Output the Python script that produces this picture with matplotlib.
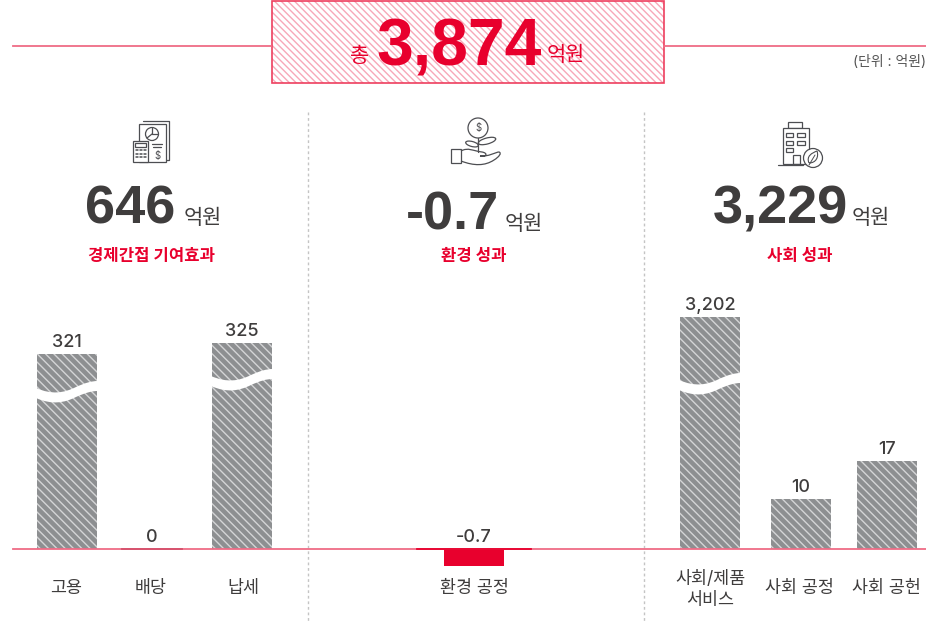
import numpy as np
import matplotlib
matplotlib.use('Agg')
import matplotlib.pyplot as plt
from matplotlib.patches import Rectangle, Circle, PathPatch, Ellipse
from matplotlib.path import Path

plt.rcParams['font.family'] = ['Inter', 'Noto Sans CJK KR', 'DejaVu Sans']
plt.rcParams['hatch.linewidth'] = 1.0

# data
categories = ['고용', '배당', '납세', '환경 공정', '사회/제품\n서비스', '사회 공정', '사회 공헌']
values = [321, 0, 325, -0.7, 3202, 10, 17]
value_labels = ['321', '0', '325', '-0.7', '3,202', '10', '17']
total_value = '3,874'
group_totals = ['646', '-0.7', '3,229']
group_names = ['경제간접 기여효과', '환경 성과', '사회 성과']

RED = '#e8002d'
LINE = '#ef6c86'
DARK = '#3f3d3d'
GRAY = '#8d8f91'
ICON = '#4d4e52'

bar_x = [67, 152, 242, 474, 710, 801, 887]
label_x = [66, 151, 243, 474, 710, 799, 886]

W, H = 926, 621
BASE = 549
fig = plt.figure(figsize=(W / 100, H / 100), dpi=100)

# background layer in pixel coords, y pointing down
bg = fig.add_axes([0, 0, 1, 1])
bg.set_xlim(0, W)
bg.set_ylim(H, 0)
bg.axis('off')

# the source chart uses a broken axis, so the scale is piecewise
scale_val = [-10, -0.7, 0, 10, 17, 321, 325, 3202, 10000]
scale_px = [-40, -17, 0, 50, 88, 195, 206, 232, 300]
def forward(v):
    return np.interp(v, scale_val, scale_px)
def inverse(p):
    return np.interp(p, scale_px, scale_val)

ax_top = 290
ax_bot = 575
ax = fig.add_axes([0, (H - ax_bot) / H, 1, (ax_bot - ax_top) / H], zorder=2)
ax.patch.set_alpha(0)
ax.set_yscale('function', functions=(forward, inverse))
ax.set_ylim(inverse(BASE - ax_bot), inverse(BASE - ax_top))
ax.set_xlim(0, W)
ax.axis('off')

# top layer for the axis breaks
over = fig.add_axes([0, 0, 1, 1], zorder=3)
over.set_xlim(0, W)
over.set_ylim(H, 0)
over.axis('off')
over.patch.set_alpha(0)

# header box
bg.plot([13, 271], [46, 46], color=LINE, lw=1.3)
bg.plot([664, 926], [46, 46], color=LINE, lw=1.3)
bg.add_patch(Rectangle((271.5, 0.5), 392.5, 82, facecolor='white', edgecolor='#f7a8b8',
                       hatch='\\' * 5, lw=0))
bg.add_patch(Rectangle((271.5, 0.5), 392.5, 82, fill=False, edgecolor='#ee3f5f', lw=1.2))
bg.text(360, 62, '총', color=RED, fontsize=15, ha='center', va='baseline')
bg.text(459, 66, total_value, color=RED, fontsize=47.5, fontweight='bold', family='Liberation Sans',
        ha='center', va='baseline')
bg.text(566, 61, '억원', color=RED, fontsize=15, ha='center', va='baseline')
bg.text(926, 66, '(단위 : 억원)', color='#555555', fontsize=10, ha='right', va='baseline')

# dotted separators
for sx in [308, 644]:
    bg.plot([sx, sx], [112, 621], color='#c4c4c4', lw=1, ls=(0, (2, 2)))

# group headers
num_x = [130, 453, 780]
unit_x = [203, 524, 871]
num_y = [224, 229, 224]
group_x = [151, 474, 800]
for i in range(3):
    bg.text(num_x[i], num_y[i], group_totals[i], color=DARK, fontsize=39, fontweight='bold',
            family='Liberation Sans', ha='center', va='baseline')
    bg.text(unit_x[i], 224 if i != 1 else 230, '억원', color=DARK, fontsize=15, ha='center', va='baseline')
    bg.text(group_x[i], 261, group_names[i], color=RED, fontsize=12, ha='center', va='baseline',
            fontweight='bold')

# bars
for x, v, lab in zip(bar_x, values, value_labels):
    if v > 0:
        ax.bar(x, v, width=60, color=GRAY, edgecolor='#d4d5d6', hatch='\\' * 4, lw=0, zorder=2)
    elif v < 0:
        ax.bar(x, v, width=60, color=RED, lw=0, zorder=2)
    ax.annotate(lab, (x, max(v, 0)), xytext=(0, 2.5), textcoords='offset points', ha='center',
                va='bottom', fontsize=13, fontweight='medium', color=DARK)

# baseline
ax.plot([13, 926], [0, 0], color=LINE, lw=1.3, zorder=3)
ax.plot([122, 182], [0, 0], color='#d5506c', lw=1.3, zorder=4)
ax.plot([417, 531], [0, 0], color=RED, lw=1.3, zorder=4)

# category labels
for x, name in zip(label_x, categories):
    if '\n' in name:
        bg.text(x, 590, name, color=DARK, fontsize=12.5, ha='center', va='center', linespacing=1.3)
    else:
        bg.text(x, 593, name, color=DARK, fontsize=12.5, ha='center', va='baseline')

# axis breaks on the three tall bars
def axis_break(x0, y0):
    t = 60
    verts = [(x0 - 1, y0), (x0 + 0.25 * t, y0 + 7), (x0 + 0.45 * t, y0 + 5), (x0 + 0.65 * t, y0 - 1),
             (x0 + 0.8 * t, y0 - 5), (x0 + 0.9 * t, y0 - 7), (x0 + t + 1, y0 - 7),
             (x0 + t + 1, y0 + 3), (x0 + 0.9 * t, y0 + 3), (x0 + 0.8 * t, y0 + 5), (x0 + 0.65 * t, y0 + 9),
             (x0 + 0.45 * t, y0 + 15), (x0 + 0.25 * t, y0 + 17), (x0 - 1, y0 + 10), (x0 - 1, y0)]
    codes = [Path.MOVETO] + [Path.CURVE4] * 6 + [Path.LINETO] + [Path.CURVE4] * 6 + [Path.LINETO]
    over.add_patch(PathPatch(Path(verts, codes), facecolor='white', edgecolor='none'))

axis_break(37, 388)
axis_break(212, 376)
axis_break(680, 380)

# icons
def box(x, y, w, h, fc='none', lw=0.9):
    bg.add_patch(Rectangle((x, y), w, h, facecolor=fc, edgecolor=ICON, lw=lw, zorder=5))
def line(xs, ys, lw=0.9):
    bg.plot(xs, ys, color=ICON, lw=lw, zorder=5, solid_capstyle='round')

# documents and calculator
line([143, 169, 169, 165], [121, 121, 160, 160])
box(139, 124, 27, 38, fc='white')
bg.add_patch(Circle((152, 134), 6.5, fill=False, edgecolor=ICON, lw=0.9, zorder=6))
line([152, 152, 158], [127.5, 134, 134])
line([152, 147], [134, 138])
line([152, 162], [144, 144])
line([153, 161], [147, 147])
bg.text(157.5, 156, '$', fontsize=7, color=ICON, ha='center', va='center', zorder=6)
box(133, 141, 15, 21, fc='white')
box(135, 143, 11, 4)
for yy in [150, 153.5, 157]:
    line([135.5, 138], [yy, yy], lw=1.1)
    line([139.5, 142], [yy, yy], lw=1.1)
    line([143.5, 146], [yy, yy], lw=1.1)

# plant in a hand
bg.add_patch(Circle((478, 128), 10, fill=False, edgecolor=ICON, lw=0.9, zorder=5))
bg.text(478, 128.5, '$', fontsize=7, color=ICON, ha='center', va='center', zorder=6)
line([478, 478], [138, 152])
bg.add_patch(Ellipse((472, 144), 13, 5, angle=15, fill=False, edgecolor=ICON, lw=0.9, zorder=5))
bg.add_patch(Ellipse((487, 141), 18, 6, angle=-15, fill=False, edgecolor=ICON, lw=0.9, zorder=5))
box(451, 149, 10, 14, fc='white')
hand = Path([(461, 151), (468, 147), (473, 151), (482, 152), (488, 153), (487, 157), (480, 156),
             (488, 157), (496, 152), (499, 152), (502, 153), (499, 157), (494, 160),
             (485, 166), (474, 166), (461, 161)],
            [Path.MOVETO] + [Path.CURVE4] * 15)
bg.add_patch(PathPatch(hand, fill=False, edgecolor=ICON, lw=0.9, zorder=5))

# building with leaf
box(788, 122, 14, 6, fc='white')
box(783, 128, 26, 36, fc='white')
line([778, 803], [164.5, 164.5])
for yy in [133, 141]:
    box(786, yy, 7, 4)
    box(797, yy, 8, 4)
box(786, 148, 7, 4)
box(793, 155, 7, 9)
bg.add_patch(Circle((813, 158), 9.5, facecolor='white', edgecolor=ICON, lw=0.9, zorder=6))
leaf = Path([(809, 163), (806, 156), (812, 153), (817, 151), (819, 157), (816, 163), (809, 163)],
            [Path.MOVETO] + [Path.CURVE4] * 6)
bg.add_patch(PathPatch(leaf, fill=False, edgecolor=ICON, lw=0.8, zorder=7))
line([809, 815], [165, 155], lw=0.7)
bg.lines[-1].set_zorder(7)

fig.savefig('out.png', dpi=100)
